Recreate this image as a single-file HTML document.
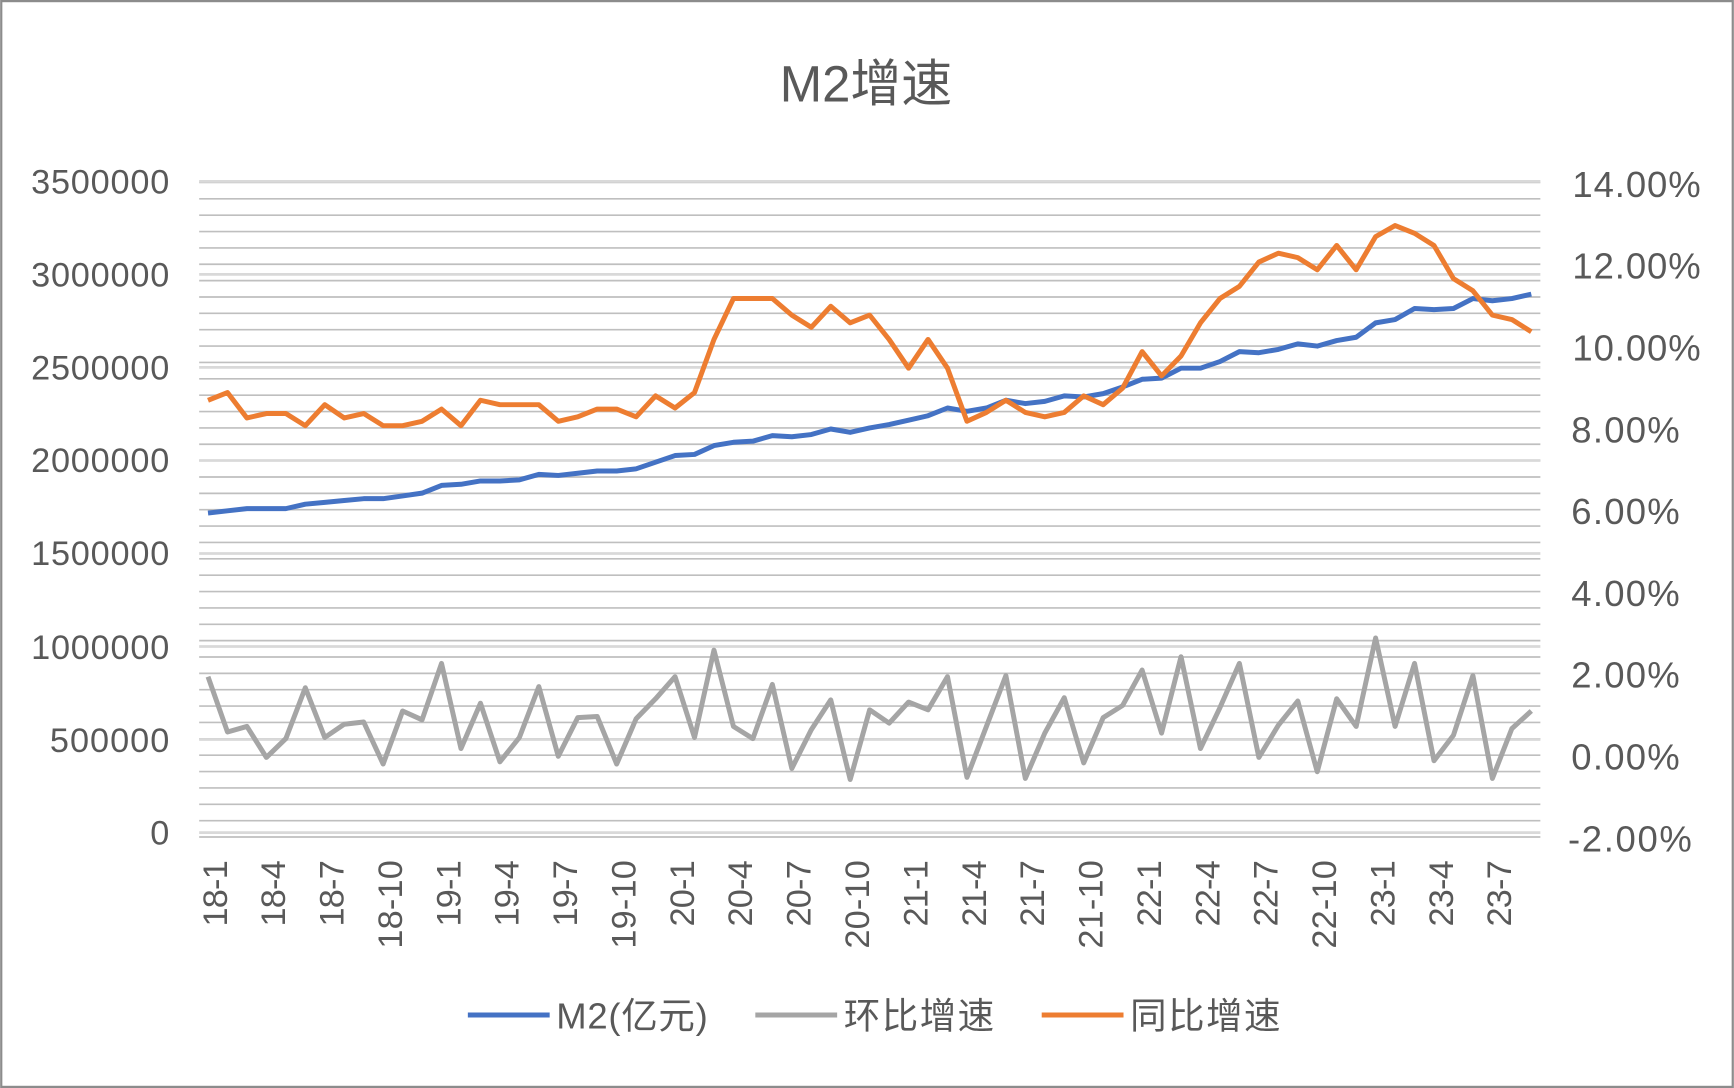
<!DOCTYPE html>
<html><head><meta charset="utf-8"><style>
html,body{margin:0;padding:0;background:#fff}
svg{display:block}
text{font-family:"Liberation Sans","Noto Sans CJK SC",sans-serif;fill:#595959}
</style></head><body>
<svg id="c" width="1734" height="1088" viewBox="0 0 1568 984" xmlns="http://www.w3.org/2000/svg">
<rect x="1" y="1" width="1566" height="982" fill="#fff" stroke="#8c8c8c" stroke-width="2"/>
<text x="783" y="92" font-size="46" text-anchor="middle">M2增速</text>
<g id="grid"></g>
<g font-size="31" text-anchor="end" textLength="125">
<text x="153" y="175" textLength="125">3500000</text>
<text x="153" y="259" textLength="125">3000000</text>
<text x="153" y="343" textLength="125">2500000</text>
<text x="153" y="427" textLength="125">2000000</text>
<text x="153" y="511" textLength="125">1500000</text>
<text x="153" y="596" textLength="125">1000000</text>
<text x="153" y="680" textLength="108">500000</text>
<text x="153" y="764">0</text>
</g>
<g font-size="33">
<text x="1422" y="178" textLength="116">14.00%</text>
<text x="1422" y="252" textLength="116">12.00%</text>
<text x="1422" y="326" textLength="116">10.00%</text>
<text x="1421" y="400" textLength="98">8.00%</text>
<text x="1421" y="474" textLength="98">6.00%</text>
<text x="1421" y="548" textLength="98">4.00%</text>
<text x="1421" y="622" textLength="98">2.00%</text>
<text x="1421" y="696" textLength="98">0.00%</text>
<text x="1418" y="770" textLength="112">-2.00%</text>
</g>
<g id="xl" font-size="31" text-anchor="end"></g>
<polyline id="gray" fill="none" stroke="#a5a5a5" stroke-width="4.5" stroke-linejoin="round"/>
<polyline id="blue" fill="none" stroke="#4472c4" stroke-width="4.5" stroke-linejoin="round"/>
<polyline id="orange" fill="none" stroke="#ed7d31" stroke-width="4.5" stroke-linejoin="round"/>
<g font-size="33">
<line x1="423" y1="918" x2="497" y2="918" stroke="#4472c4" stroke-width="4.5"/>
<text x="503" y="930" textLength="137">M2(亿元)</text>
<line x1="683" y1="918" x2="757" y2="918" stroke="#a5a5a5" stroke-width="4.5"/>
<text x="763" y="930" textLength="136">环比增速</text>
<line x1="942" y1="918" x2="1016" y2="918" stroke="#ed7d31" stroke-width="4.5"/>
<text x="1022" y="930" textLength="136">同比增速</text>
</g>
</svg>
<script>
var g=document.getElementById("grid"),s="";
for(var k=0;k<=40;k++){var y=757-k*14.8;s+='<line x1="180" x2="1393" y1="'+y+'" y2="'+y+'" stroke="#bfbfbf" stroke-width="1.5"/>';}
for(var k=0;k<=7;k++){var y=753-k*84.14;s+='<line x1="180" x2="1393" y1="'+y+'" y2="'+y+'" stroke="#d9d9d9" stroke-width="2.5"/>';}
g.innerHTML=s;
var X=function(i){return 188+17.6*i;};
var org=[362,355,378,374,374,385,366,378,374,385,385,381,370,385,362,366,366,366,381,377,370,370,377,358,369,355,307,270,270,270,285,296,277,292,285,307,333,307,333,381,373,362,373,377,373,358,366,351,318,340,322,292,270,259,237,229,233,244,222,244,214,204,211,222,252,263,285,289,300];
var bk={0:464,2:460,4:460,5:456,8:451,9:451,11:446,12:439,13:438,14:435,15:435,16:434,17:429,18:430,20:426,21:426,22:424,24:412,25:411,26:403,27:400,28:399,29:394,30:395,31:393,32:388,33:391,34:387,35:384,36:380,37:376,38:369,39:372,40:369,41:362,42:365,43:363,44:358,45:359,46:356,47:350,48:343,49:342,50:333,51:333,52:327,53:318,54:319,55:316,56:311,57:313,58:308,59:305,60:292,61:289,62:279,63:280,64:279,65:270,66:272,67:270,68:266};
var blu=[];for(var i=0;i<69;i++){if(bk[i]!==undefined)blu.push(bk[i]);else{var a=i-1,b=i+1;while(bk[b]===undefined)b++;blu.push(bk[a]+(bk[b]-bk[a])*(i-a)/(b-a));bk[i]=blu[i];}}
var gry=[612,662,657,685,668,622,667,655,653,691,643,651,600,677,636,689,667,621,684,649,648,691,650,632,612,667,588,657,668,619,695,660,633,705,642,654,635,642,612,703,657,611,704,663,631,690,649,638,606,663,594,677,640,600,685,656,634,698,632,657,577,657,600,688,665,611,704,659,643];
function pts(a){return a.map(function(y,i){return X(i).toFixed(1)+","+y;}).join(" ");}
document.getElementById("orange").setAttribute("points",pts(org));
document.getElementById("blue").setAttribute("points",pts(blu));
document.getElementById("gray").setAttribute("points",pts(gry));
var labs=["18-1","18-4","18-7","18-10","19-1","19-4","19-7","19-10","20-1","20-4","20-7","20-10","21-1","21-4","21-7","21-10","22-1","22-4","22-7","22-10","23-1","23-4","23-7"];
var xl=document.getElementById("xl"),h="";
labs.forEach(function(l,j){var x=X(j*3)+17;var len=l.length==4?60:80;h+='<text transform="translate('+x+',778) rotate(-90)" textLength="'+len+'">'+l+'</text>';});
xl.innerHTML=h;
</script>
</body></html>
